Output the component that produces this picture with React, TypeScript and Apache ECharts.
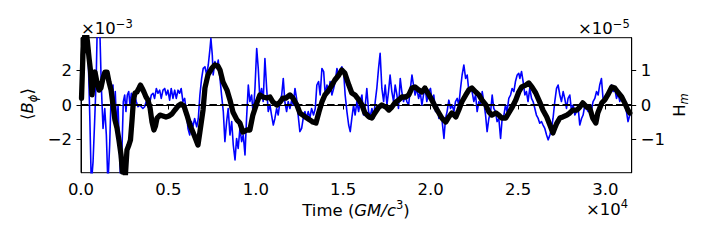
import React, { useEffect, useRef } from 'react';
import * as echarts from 'echarts';

// x ticks in units of 1e4 GM/c^3
const xTicks = [0, 0.5, 1, 1.5, 2, 2.5, 3];
// left axis <B_phi> in units of 1e-3
const leftTicks = [-2, 0, 2];
// right axis H_m in units of 1e-5
const rightTicks = [-1, 0, 1];

// thick black curve (left axis, x1e-3)
const blackT = [
  0.003,0.011,0.020,0.029,0.037,0.046,0.054,0.063,0.071,0.080,
  0.091,0.103,0.114,0.126,0.137,0.149,0.160,0.172,0.183,0.194,
  0.206,0.217,0.229,0.237,0.246,0.254,0.263,0.274,0.283,0.292,
  0.300,0.309,0.320,0.332,0.340,0.349,0.360,0.372,0.383,0.395,
  0.406,0.417,0.426,0.435,0.452,0.469,0.486,0.503,0.520,0.537,
  0.555,0.572,0.589,0.606,0.623,0.640,0.658,0.669,0.680,0.698,
  0.709,0.726,0.749,0.766,0.783,0.795,0.812,0.835,0.852,0.869,
  0.892,0.909,0.926,0.949,0.966,0.983,1.006,1.023,1.041,1.063,
  1.081,1.098,1.121,1.138,1.155,1.172,1.195,1.212,1.235,1.252,
  1.269,1.292,1.309,1.326,1.344,1.361,1.378,1.395,1.418,1.435,
  1.452,1.475,1.492,1.509,1.532,1.549,1.567,1.589,1.607,1.624,
  1.647,1.664,1.681,1.704,1.721,1.744,1.761,1.778,1.795,1.818,
  1.835,1.858,1.875,1.893,1.910,1.933,1.950,1.967,1.990,2.007,
  2.030,2.047,2.064,2.087,2.104,2.121,2.144,2.161,2.178,2.201,
  2.218,2.236,2.258,2.276,2.293,2.316,2.333,2.350,2.373,2.390,
  2.407,2.430,2.447,2.464,2.487,2.504,2.521,2.544,2.561,2.579,
  2.601,2.624,2.642,2.664,2.682,2.699,2.710,2.722,2.739,2.756,
  2.779,2.796,2.813,2.836,2.853,2.870,2.893,2.910,2.927,2.945,
  2.956,2.979,2.996,3.013,3.036,3.053,3.070,3.093,3.110,3.128,
  3.139,
];
const blackV = [
  0.40,2.88,3.92,4.32,3.63,2.71,2.02,0.58,1.44,1.90,
  1.33,0.86,0.98,1.56,1.90,1.90,1.33,0.86,0,-0.86,
  -1.33,-2.02,-2.88,-3.86,-3.17,-4.03,-2.59,-2.31,-2.02,-0.86,
  0.29,0.69,0.75,0.98,1.15,0.98,0.75,0.46,0.29,-0.17,
  -0.98,-1.44,-1.21,-0.75,-0.58,-0.63,-0.69,-0.63,-0.52,-0.29,
  -0.06,0.06,-0.06,-0.58,-1.15,-1.56,-2.02,-2.31,-1.56,-0.29,
  0.98,1.73,2.13,2.31,2.25,2.02,1.33,0.86,0.29,-0.40,
  -0.86,-1.04,-1.56,-1.44,-1.44,-0.58,0.12,0.58,0.46,0.40,
  0.46,0.17,0,0.17,0.40,0.40,0.58,0.40,0,-0.46,
  -0.58,-0.75,-0.86,-0.98,-1.04,-0.40,0.17,0.58,0.86,1.15,
  1.44,1.73,2.02,1.84,1.15,0.69,0.58,0.29,0,-0.46,
  -0.69,-0.75,-0.46,-0.12,0,-0.12,-0.29,-0.12,0.12,0.29,
  0.46,0.46,0.58,0.98,1.04,0.86,0.75,0.98,0.58,0.29,
  -0.17,-0.46,-0.75,-0.98,-0.69,-0.46,-0.69,-0.29,0.17,0.58,
  0.86,0.98,0.75,0.58,0.29,0,-0.40,-0.58,-0.46,-0.58,
  -0.75,-0.75,-0.46,-0.17,0.29,0.75,1.04,1.15,1.27,1.04,
  0.69,0.17,-0.29,-0.69,-1.15,-1.61,-1.33,-1.04,-0.75,-0.69,
  -0.58,-0.46,-0.29,-0.29,-0.12,0.12,-0.12,-0.17,-0.75,-1.04,
  -0.46,0.12,0.29,0.58,1.04,0.98,0.75,0.46,0.12,-0.29,
  -0.46,
];

// thin blue curve (right axis, x1e-5)
const blueT = [
  0.011,0.025,0.036,0.044,0.051,0.059,0.069,0.078,0.087,0.093,
  0.107,0.116,0.126,0.136,0.145,0.154,0.164,0.173,0.183,0.189,
  0.196,0.204,0.212,0.219,0.227,0.234,0.242,0.250,0.257,0.265,
  0.273,0.280,0.288,0.297,0.307,0.316,0.326,0.336,0.345,0.354,
  0.364,0.373,0.383,0.393,0.402,0.412,0.421,0.431,0.440,0.450,
  0.459,0.469,0.479,0.488,0.497,0.507,0.516,0.526,0.536,0.545,
  0.555,0.564,0.573,0.583,0.593,0.602,0.612,0.622,0.631,0.640,
  0.650,0.662,0.671,0.680,0.690,0.699,0.709,0.719,0.728,0.738,
  0.743,0.751,0.756,0.766,0.776,0.785,0.795,0.804,0.814,0.823,
  0.833,0.842,0.852,0.862,0.871,0.881,0.890,0.899,0.909,0.919,
  0.928,0.938,0.947,0.957,0.966,0.976,0.985,0.995,1.005,1.014,
  1.023,1.033,1.042,1.052,1.062,1.071,1.081,1.090,1.100,1.109,
  1.119,1.128,1.138,1.148,1.157,1.166,1.176,1.185,1.195,1.205,
  1.214,1.224,1.233,1.242,1.252,1.262,1.271,1.281,1.290,1.300,
  1.309,1.319,1.330,1.340,1.349,1.359,1.368,1.378,1.388,1.397,
  1.407,1.416,1.425,1.435,1.445,1.454,1.464,1.473,1.483,1.492,
  1.502,1.511,1.521,1.531,1.540,1.549,1.559,1.568,1.578,1.588,
  1.597,1.607,1.616,1.626,1.635,1.645,1.654,1.664,1.674,1.683,
  1.692,1.702,1.711,1.721,1.731,1.740,1.750,1.759,1.768,1.778,
  1.788,1.797,1.807,1.816,1.826,1.835,1.845,1.854,1.864,1.874,
  1.883,1.893,1.902,1.911,1.921,1.931,1.940,1.950,1.959,1.969,
  1.978,1.990,1.999,2.009,2.018,2.028,2.037,2.047,2.057,2.066,
  2.076,2.085,2.094,2.104,2.114,2.123,2.133,2.142,2.152,2.161,
  2.171,2.180,2.190,2.200,2.209,2.218,2.228,2.237,2.247,2.257,
  2.266,2.276,2.285,2.295,2.304,2.314,2.323,2.333,2.343,2.352,
  2.361,2.371,2.380,2.390,2.400,2.409,2.419,2.428,2.437,2.447,
  2.457,2.466,2.476,2.485,2.495,2.504,2.510,2.520,2.529,2.539,
  2.548,2.557,2.567,2.577,2.586,2.596,2.605,2.615,2.624,2.634,
  2.643,2.653,2.663,2.672,2.682,2.691,2.700,2.710,2.720,2.729,
  2.739,2.748,2.758,2.767,2.777,2.786,2.796,2.806,2.815,2.825,
  2.834,2.844,2.853,2.863,2.872,2.882,2.891,2.901,2.910,2.920,
  2.929,2.939,2.949,2.958,2.967,2.977,2.986,2.996,3.006,3.015,
  3.025,3.034,3.044,3.053,3.063,3.072,3.082,3.092,3.101,3.110,
  3.120,3.129,3.139,
];
const blueV = [
  1.06,1.83,2.3,0.87,-0.48,-2.3,-1.64,-0.48,0.77,2.3,
  2.3,0.58,-0.68,-0.10,-0.87,-2.3,-1.16,0.39,0.58,-0.39,
  0.39,-0.68,0,-1.16,-2.3,-1.35,0.10,0.29,-0.19,0.29,
  0.39,0,0.34,0.19,0.29,0.10,-0.05,0,-0.05,-0.10,
  -0.05,0.10,-0.05,0.05,0.29,0.34,0.19,0.48,0.34,0.43,
  0.19,0.43,0.48,0.29,0.43,0.14,0.48,0.19,0.43,0.19,
  0.43,0.34,0.48,0.10,0.19,-0.19,-0.68,-0.87,-0.48,-0.63,
  -0.39,-0.63,-0.39,0.29,0.77,1.06,1.11,0.87,1.16,1.64,
  1.93,1.45,0.87,1.26,1.06,1.30,0.77,0.29,-0.19,-1.06,
  -0.48,-0.10,-0.87,-0.48,-1.16,-1.59,-0.97,-1.26,-0.68,-1.06,
  -0.87,-1.45,-0.39,0.58,0.10,0.29,-0.29,0.48,1.64,1.06,
  0.19,0.48,0.10,1.35,0.48,-0.19,0,-0.29,-0.58,-0.39,
  -0.10,-0.29,0.10,0.29,0.77,0.10,-0.19,0.10,-0.10,0.14,
  0,0.48,0.19,-0.29,-0.77,-0.68,-0.39,-0.19,-0.39,-0.19,
  -0.39,-0.10,-0.29,-0.10,0.58,0.68,0.29,1.06,0.97,0.29,
  0.58,0.34,0.68,0.29,0.48,0.68,1.06,0.87,0.97,1.11,
  0.97,0.29,-0.19,-0.58,-0.77,-0.39,0,-0.29,0.10,-0.19,
  0.10,0.29,-0.29,0,0.48,-0.19,-0.34,-0.10,-0.39,0.10,
  0.48,1.06,1.50,0.48,0.10,0.58,0,0.39,0.87,0.39,
  0.10,0.58,0.29,-0.10,0.77,0.39,0.10,0.29,0.10,0,
  0.43,0.87,0.58,0.29,0.48,0.19,0.39,0,0.29,0.48,
  0.10,0.39,0.48,0.10,0.29,-0.19,0,-0.39,-0.29,-0.48,
  -0.97,-0.39,-0.19,0.14,-0.10,0,-0.19,0.10,0.19,0,
  0.48,0.87,1.16,0.77,0.87,0.43,0.48,0.39,0.10,0.29,
  -0.19,0.10,0,0.39,0.10,-0.29,-0.77,-0.39,-0.19,0.29,
  -0.10,-0.19,-0.48,-0.39,-0.97,-0.39,-0.29,0,-0.19,0.19,
  0.29,0.48,0.39,0.68,0.87,0.92,0.77,0.97,0.68,0.29,
  0.39,0.10,0.48,0.19,0.10,-0.10,-0.29,-0.39,-0.53,-0.48,
  -0.58,-0.68,-0.87,-1.01,-0.87,-0.68,-0.39,0.10,0.48,0.58,
  0.29,0.10,0.39,0.19,-0.10,0.19,0.29,-0.19,0,-0.29,
  -0.19,-0.10,-0.58,-0.39,-0.29,0,-0.10,-0.19,0,-0.14,
  0.10,0.19,0.39,0.29,0.58,0.77,0.19,0.10,0.29,0.39,
  0.48,0.58,0.39,0.48,0.19,0.34,0.10,0.29,0.10,0,
  -0.19,-0.48,-0.29,
];

const FONT = 'DejaVu Sans';
const FS = 16.5;
const SUP = 11.5;

const signed = (v: number) => (v < 0 ? '\u2212' + String(Math.abs(v)) : String(v));

export default function App() {
  const ref = useRef<HTMLDivElement>(null);
  useEffect(() => {
    if (!ref.current) return;
    const chart = echarts.init(ref.current, null, { renderer: 'svg' });
    const labelStyle = { color: '#000', fontSize: FS, fontFamily: FONT };
    const tickStyle = { color: '#000', width: 1 };
    const txt = (x: number, y: number, text: string, size: number) => ({
      type: 'text',
      x,
      y,
      silent: true,
      style: { text, fontSize: size, fontFamily: FONT, fill: '#000', align: 'left', verticalAlign: 'middle' },
    });
    const option: any = {
      animation: false,
      backgroundColor: '#fff',
      grid: {
        left: 81,
        top: 37.7,
        width: 550.7,
        height: 135,
        show: true,
        borderColor: '#000',
        borderWidth: 1,
        backgroundColor: 'transparent',
        containLabel: false,
        outerBoundsMode: 'none',
      },
      xAxis: {
        type: 'value',
        min: 0,
        max: 3.15,
        axisLine: { show: true, lineStyle: tickStyle },
        axisTick: { show: true, inside: false, length: 4.5, lineStyle: tickStyle, customValues: xTicks },
        axisLabel: { ...labelStyle, margin: 8, customValues: xTicks, formatter: (v: number) => v.toFixed(1) },
        splitLine: { show: false },
      },
      yAxis: [
        {
          type: 'value',
          position: 'left',
          min: -3.902,
          max: 3.879,
          axisLine: { show: true, lineStyle: tickStyle },
          axisTick: { show: true, inside: false, length: 4.5, lineStyle: tickStyle, customValues: leftTicks },
          axisLabel: { ...labelStyle, margin: 9, customValues: leftTicks, formatter: signed },
          splitLine: { show: false },
        },
        {
          type: 'value',
          position: 'right',
          min: -1.962,
          max: 1.951,
          axisLine: { show: true, lineStyle: tickStyle },
          axisTick: { show: true, inside: false, length: 4.5, lineStyle: tickStyle, customValues: rightTicks },
          axisLabel: { ...labelStyle, margin: 9, customValues: rightTicks, formatter: signed },
          splitLine: { show: false },
        },
      ],
      series: [
        {
          type: 'line',
          name: 'H_m',
          xAxisIndex: 0,
          yAxisIndex: 1,
          data: blueT.map((t, i) => [t, blueV[i]]),
          showSymbol: false,
          symbol: 'none',
          clip: true,
          silent: true,
          lineStyle: { color: '#0000ff', width: 1.6, join: 'round' },
          z: 2,
        },
        {
          type: 'line',
          name: 'zero',
          xAxisIndex: 0,
          yAxisIndex: 0,
          data: [],
          silent: true,
          z: 3,
          markLine: {
            silent: true,
            symbol: 'none',
            animation: false,
            label: { show: false },
            lineStyle: { color: '#000', width: 2, type: [7.5, 3.2] },
            data: [{ yAxis: 0 }],
          },
        },
        {
          type: 'line',
          name: 'B_phi',
          xAxisIndex: 0,
          yAxisIndex: 0,
          data: blackT.map((t, i) => [t, blackV[i]]),
          showSymbol: false,
          symbol: 'none',
          clip: true,
          silent: true,
          lineStyle: { color: '#000', width: 5.3, join: 'round', cap: 'round' },
          z: 4,
        },
      ],
      graphic: [
        txt(81, 28, '\u00d710', FS),
        txt(115.8, 24, '\u22123', SUP),
        txt(578, 28, '\u00d710', FS),
        txt(612.8, 24, '\u22125', SUP),
        txt(586, 209, '\u00d710', FS),
        txt(620.8, 204, '4', SUP),
        {
          type: 'text',
          x: 356,
          y: 210,
          silent: true,
          style: {
            text: '{n|Time (}{i|GM/c}{s|3}{n|)}',
            align: 'center',
            verticalAlign: 'middle',
            fill: '#000',
            fontFamily: FONT,
            fontSize: FS,
            rich: {
              n: { fontFamily: FONT, fontSize: FS, lineHeight: 22, fill: '#000' },
              i: { fontFamily: FONT, fontSize: FS, fontStyle: 'italic', lineHeight: 22, fill: '#000' },
              s: { fontFamily: FONT, fontSize: SUP, lineHeight: 12, verticalAlign: 'top', fill: '#000' },
            },
          },
        },
        {
          type: 'text',
          x: 27.5,
          y: 104,
          rotation: Math.PI / 2,
          silent: true,
          style: {
            text: '{n|\u27e8}{i|B}{s|\u03d5}{n|\u27e9}',
            align: 'center',
            verticalAlign: 'middle',
            fill: '#000',
            fontFamily: FONT,
            fontSize: FS,
            rich: {
              n: { fontFamily: FONT, fontSize: FS, lineHeight: 22, fill: '#000' },
              i: { fontFamily: FONT, fontSize: FS, fontStyle: 'italic', lineHeight: 22, fill: '#000' },
              s: { fontFamily: FONT, fontSize: SUP, fontStyle: 'italic', lineHeight: 12, verticalAlign: 'bottom', fill: '#000' },
            },
          },
        },
        {
          type: 'text',
          x: 679,
          y: 105,
          rotation: Math.PI / 2,
          silent: true,
          style: {
            text: '{n|H}{s|m}',
            align: 'center',
            verticalAlign: 'middle',
            fill: '#000',
            fontFamily: FONT,
            fontSize: FS,
            rich: {
              n: { fontFamily: FONT, fontSize: FS, lineHeight: 22, fill: '#000' },
              s: { fontFamily: FONT, fontSize: SUP, fontStyle: 'italic', lineHeight: 12, verticalAlign: 'bottom', fill: '#000' },
            },
          },
        },
      ],
    };
    chart.setOption(option);
    return () => chart.dispose();
  }, []);
  return (
    <div
      ref={ref}
      style={{ position: 'absolute', left: 0, top: 0, width: 710, height: 246, background: '#fff' }}
    />
  );
}
